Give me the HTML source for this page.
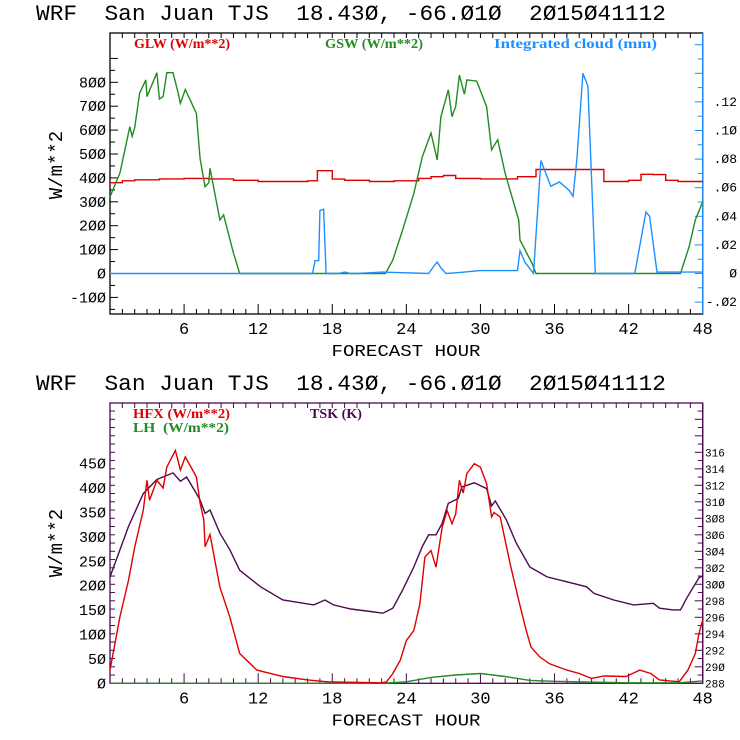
<!DOCTYPE html>
<html><head><meta charset="utf-8"><style>
html,body{margin:0;padding:0;background:#fff;width:740px;height:740px;overflow:hidden}
svg{display:block}
text{white-space:pre}
</style></head><body>
<svg id="c" width="740" height="740" xmlns="http://www.w3.org/2000/svg"></svg>
<script>
// ---- data (hour, value) ----
const gswHours=[0,0.8,1.6,1.8,2.0,2.4,2.9,3.0,3.8,4.0,4.3,4.6,5.1,5.5,5.7,6.1,7.0,7.3,7.7,8.0,8.1,8.9,9.2,10.0,10.5,22.0,22.3,22.9,23.7,24.6,25.3,26.0,26.5,26.8,27.4,27.7,28.0,28.3,28.7,28.9,29.7,30.5,30.9,31.4,32.0,33.1,33.2,34.2,34.5,46.2,46.9,47.4,48];
const gswVals=[321,420,614,574,610,754,810,740,840,730,740,840,840,760,712,770,670,480,363,380,440,224,245,85,0,0,0,56,182,335,489,588,475,656,768,656,700,830,750,810,805,698,517,560,420,224,140,40,0,0,112,224,300];
const glwHours=[0,1,2,4,6,8,10,12,14,16,16.8,18,19,21,23,25,26,27,28,30,32,33,34.5,39,40,42,43,44,45,46,48];
const glwVals=[380,388,392,396,398,396,390,385,385,388,430,395,390,385,388,398,405,410,398,396,396,405,435,435,385,390,415,414,390,385,385];
const cloudHours=[0,16.4,16.6,16.9,17.0,17.3,17.5,18.5,19,19.5,20,21,22,25.8,26.3,26.5,26.8,27.2,28,30,33,33.2,33.6,34.3,34.9,35.7,36.4,37.2,37.5,37.8,38.3,38.7,39.3,42.5,43.4,43.7,44.3,48];
const cloudVals=[0,0,0.009,0.009,0.044,0.045,0,0,0.001,0,0,0.0005,0.001,0,0.006,0.008,0.004,0,0.0005,0.002,0.002,0.016,0.008,0,0.079,0.061,0.064,0.058,0.054,0.079,0.140,0.131,0,0,0.043,0.040,0.001,0.001];
const hfxHours=[0,0.8,1.5,2.0,2.7,3.0,3.2,3.8,4.3,4.6,5.3,5.7,6.1,7.0,7.3,7.6,7.7,8.1,8.9,9.7,10.5,11.9,14,16,17.6,22.0,22.4,22.9,23.5,24.0,24.6,25.1,25.5,26.0,26.4,26.9,27.3,27.7,28.0,28.3,28.6,28.9,29.5,30.0,30.5,30.9,31.1,31.6,32.4,33.1,33.7,34.1,34.8,35.6,37,38,39,40,41.8,42.9,43.8,44.5,46.1,46.8,47.4,47.7,48];
const hfxVals=[27,136,211,279,355,416,375,416,400,443,477,437,464,423,369,335,280,305,197,136,61,27,14,7,3,1,3,20,47,88,108,163,259,272,238,320,354,327,347,416,390,430,450,443,409,341,350,341,245,170,109,74,54,40,27,20,10,15,14,27,20,7,3,27,61,102,130];
const lhHours=[0,22,24,26,28,30,32,34,36,40,42,46,48];
const lhVals=[0,0,3,12,17,20,14,6,4,2,1,1,5];
const tskHours=[0,1.5,2.7,3.8,5.1,5.7,6.2,7.0,7.3,7.7,8.1,8.9,9.7,10.5,12.2,14,16.5,17.4,18.1,19.5,21.1,22.1,22.9,23.7,24.6,25.3,25.8,26.4,26.9,27.4,28.2,28.5,29.5,30.5,30.9,31.2,32.1,32.9,34.0,35.4,37,38.6,39.2,40.8,42.4,44,44.5,45.6,46.2,46.7,47.7,48];
const tskVals=[300.9,307,311,312.7,313.5,312.5,313,311,310.2,308.6,309,306.2,304.2,301.7,299.7,298.1,297.5,298.1,297.5,297,296.7,296.5,297.1,299.3,302.1,304.6,306,306,307.4,309.8,310.4,311.8,312.3,311.6,309.5,310.1,307.8,305,302.1,300.9,300.3,299.7,298.9,298.1,297.5,297.7,297.1,296.9,296.9,298.3,300.8,301];
const topLeftTicks=[-100,0,100,200,300,400,500,600,700,800];
const topRightTicks=[-0.02,0,0.02,0.04,0.06,0.08,0.10,0.12];
const topRightLabels=["-.02","0",".02",".04",".06",".08",".10",".12"];
const botLeftTicks=[0,50,100,150,200,250,300,350,400,450];
const botRightTicks=[288,290,292,294,296,298,300,302,304,306,308,310,312,314,316];
const hourTicks=[6,12,18,24,30,36,42,48];

const NS="http://www.w3.org/2000/svg";
const svg=document.getElementById('c');
function mk(tag,attrs,parent){const e=document.createElementNS(NS,tag);for(const k in attrs)e.setAttribute(k,attrs[k]);(parent||svg).appendChild(e);return e;}
const X0=110,X1=702.7;
const xs=h=>X0+(X1-X0)*h/48;
const yTop=v=>273.5-v*0.239;
const yTopR=v=>273.5-v*1430;
const yBot=v=>683.3-v*0.488;
const yBotR=v=>683.3-(v-288)*8.25;
const TITLE="WRF  San Juan TJS  18.43Ø, -66.Ø1Ø  2Ø15Ø41112";
const mono='"Liberation Mono", monospace';
const serif='"Liberation Serif", serif';

function line(pts,color,name,step){
  let p2=pts;
  if(step){p2=[];pts.forEach((q,i)=>{if(i>0)p2.push([q[0],pts[i-1][1]]);p2.push(q);});}
  const p=mk('polyline',{points:p2.map(q=>q[0].toFixed(1)+','+q[1].toFixed(1)).join(' '),fill:'none',stroke:color,'stroke-width':1.4,'stroke-linejoin':'miter'});
  
  
}
function text(x,y,s,opt,name){
  const t=mk('text',Object.assign({x:x,y:y,'font-family':mono,'font-size':15,fill:'#000'},opt||{}));
  t.textContent=s;
  
  
  return t;
}
function panel(top,bot,frameColor,rightColor,prefix){
  for(let h=1;h<48;h++){
    const x=xs(h),major=h%6===0;
    mk('line',{x1:x,y1:bot,x2:x,y2:bot-(major?10:5),stroke:frameColor,'stroke-width':1});
    mk('line',{x1:x,y1:top,x2:x,y2:top+5,stroke:frameColor,'stroke-width':1});
  }
  const r=mk('rect',{x:X0,y:top,width:X1-X0,height:bot-top,fill:'none',stroke:frameColor,'stroke-width':1.3});
  
  
  mk('line',{x1:X1,y1:top,x2:X1,y2:bot,stroke:rightColor,'stroke-width':1.3});
  hourTicks.forEach(h=>{text(xs(h),bot+20,String(h),{'text-anchor':'middle','font-size':17},prefix+'-x-tick-label');});
  text(406,bot+42,'FORECAST HOUR',{'text-anchor':'middle','font-size':17,textLength:149,lengthAdjust:'spacingAndGlyphs'},prefix+'-x-axis-title');
  text(36,top-13,TITLE,{'font-size':22,textLength:630,lengthAdjust:'spacingAndGlyphs'},prefix+'-title');
}
// ---- TOP PANEL ----
panel(33,314,'#000','#1e8fff','top');
for(let v=-150;v<=900;v+=50){const y=yTop(v);if(y<33||y>314)continue;mk('line',{x1:X0,y1:y,x2:X0+(v%100===0?8:5),y2:y,stroke:'#000'});}
topLeftTicks.forEach(v=>text(106,yTop(v)+5,String(v).replace(/0/g,'Ø'),{'text-anchor':'end','font-size':15},'top-y-tick-label'));
for(let v=-0.03;v<=0.185;v+=0.01){const y=yTopR(v);if(y<33||y>314)continue;mk('line',{x1:X1,y1:y,x2:X1-(Math.round(v*100)%2===0?8:5),y2:y,stroke:'#1e8fff'});}
topRightTicks.forEach((v,i)=>text(737,yTopR(v)+4,topRightLabels[i].replace(/0/g,'Ø'),{'text-anchor':'end','font-size':13},'top-right-tick-label'));
text(62,165,'W/m**2',{'text-anchor':'middle','font-size':19,transform:'rotate(-90 62 165)'},'top-y-axis-title');
text(134,48,'GLW (W/m**2)',{'font-family':serif,'font-size':14,'font-weight':'bold',fill:'#dd0000',textLength:96,lengthAdjust:'spacingAndGlyphs'},'legend-glw');
text(325,48,'GSW (W/m**2)',{'font-family':serif,'font-size':14,'font-weight':'bold',fill:'#228b22',textLength:98,lengthAdjust:'spacingAndGlyphs'},'legend-gsw');
text(494,48,'Integrated cloud (mm)',{'font-family':serif,'font-size':14,'font-weight':'bold',fill:'#1e8fff',textLength:163,lengthAdjust:'spacingAndGlyphs'},'legend-cloud');
line(glwHours.map((h,i)=>[xs(h),yTop(glwVals[i])]),'#dd0000','glw-line',true);
line(gswHours.map((h,i)=>[xs(h),yTop(gswVals[i])]),'#228b22','gsw-line');
line(cloudHours.map((h,i)=>[xs(h),yTopR(cloudVals[i])]),'#1e8fff','cloud-line');
// ---- BOTTOM PANEL ----
const PUR='#4b0a4f';
panel(403,683.3,PUR,PUR,'bottom');
for(let v=288;v<=321;v++){const y=yBotR(v);if(y<403)continue;mk('line',{x1:X0,y1:y,x2:X0+5,y2:y,stroke:PUR});mk('line',{x1:X1,y1:y,x2:X1-(v%2===0?8:5),y2:y,stroke:PUR});}
botLeftTicks.forEach(v=>text(106,yBot(v)+5,String(v).replace(/0/g,'Ø'),{'text-anchor':'end','font-size':15},'bottom-y-tick-label'));
botRightTicks.forEach(v=>text(705,yBotR(v)+4,String(v).replace(/0/g,'Ø'),{'font-size':11},'bottom-right-tick-label'));
text(62,543,'W/m**2',{'text-anchor':'middle','font-size':19,transform:'rotate(-90 62 543)'},'bottom-y-axis-title');
text(133,418,'HFX (W/m**2)',{'font-family':serif,'font-size':14,'font-weight':'bold',fill:'#dd0000',textLength:97,lengthAdjust:'spacingAndGlyphs'},'legend-hfx');
text(133,432,'LH  (W/m**2)',{'font-family':serif,'font-size':14,'font-weight':'bold',fill:'#228b22',textLength:96,lengthAdjust:'spacingAndGlyphs'},'legend-lh');
text(310,418,'TSK (K)',{'font-family':serif,'font-size':14,'font-weight':'bold',fill:PUR,textLength:52,lengthAdjust:'spacingAndGlyphs'},'legend-tsk');
line(lhHours.map((h,i)=>[xs(h),yBot(lhVals[i])]),'#228b22','lh-line');
line(tskHours.map((h,i)=>[xs(h),yBotR(tskVals[i])]),PUR,'tsk-line');
line(hfxHours.map((h,i)=>[xs(h),yBot(hfxVals[i])]),'#dd0000','hfx-line');
</script>
</body></html>
